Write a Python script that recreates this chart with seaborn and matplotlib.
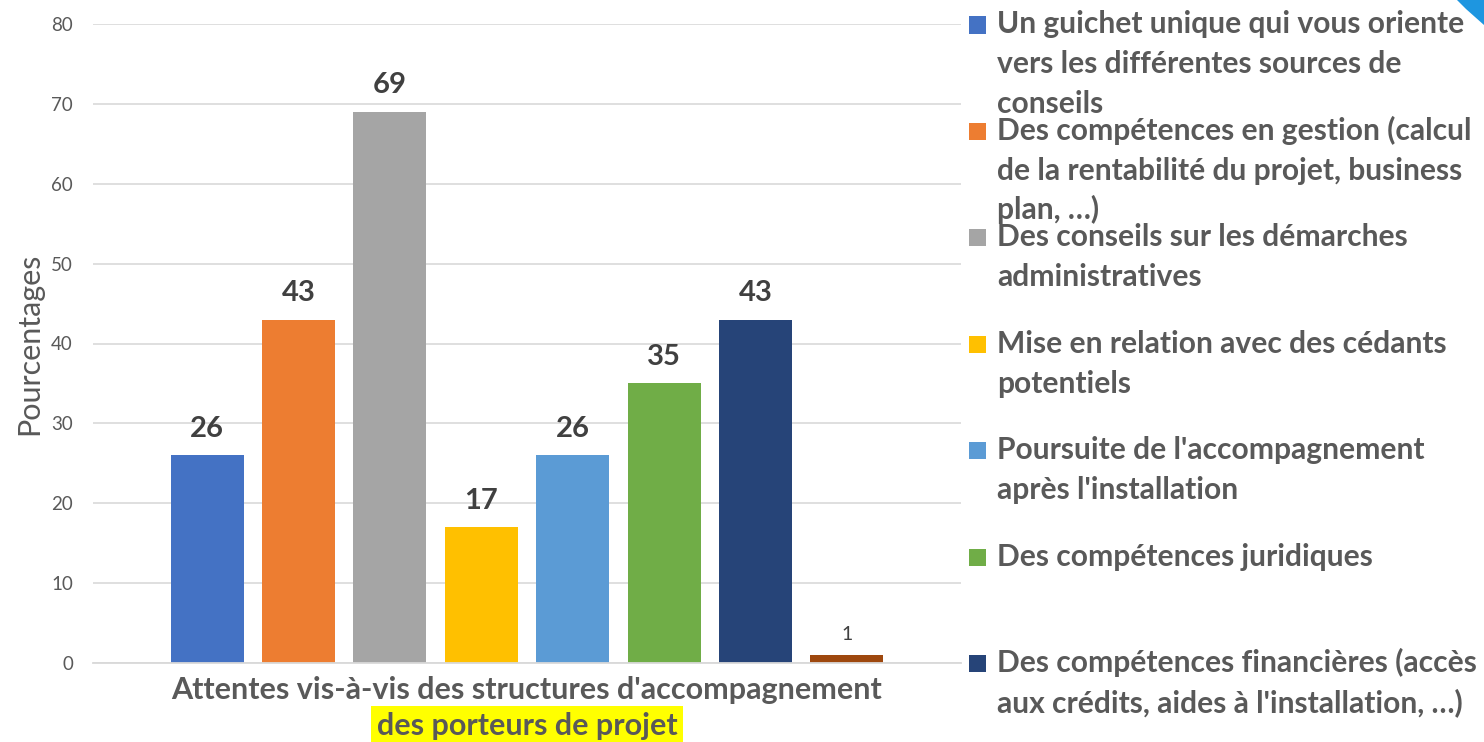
import matplotlib
matplotlib.use("Agg")
import matplotlib.pyplot as plt
import seaborn as sns
import pandas as pd
from matplotlib.patches import Rectangle, Polygon

# ---------------- data ----------------
categories = [
    "Un guichet unique qui vous oriente\nvers les différentes sources de\nconseils",
    "Des compétences en gestion (calcul\nde la rentabilité du projet, business\nplan, …)",
    "Des conseils sur les démarches\nadministratives",
    "Mise en relation avec des cédants\npotentiels",
    "Poursuite de l'accompagnement\naprès l'installation",
    "Des compétences juridiques",
    "Des compétences financières (accès\naux crédits, aides à l'installation, …)",
    "Autre",
]
values = [26, 43, 69, 17, 26, 35, 43, 1]
colors = ["#4472C4", "#ED7D31", "#A5A5A5", "#FFC000",
          "#5B9BD5", "#70AD47", "#264478", "#9E480E"]
group_label = "Attentes vis-à-vis des structures d'accompagnement"
group_label_line2 = "des porteurs de projet"
y_label = "Pourcentages"
y_ticks = [0, 10, 20, 30, 40, 50, 60, 70, 80]
n_legend = 7

# ---------------- style ----------------
sns.set_theme(style="white")
plt.rcParams["font.family"] = ["Lato", "DejaVu Sans"]

W, H = 1484, 742
fig = plt.figure(figsize=(W / 100, H / 100), dpi=100)
ax = fig.add_axes([93 / W, 1 - 663 / H, 868 / W, 639 / H])

df = pd.DataFrame({"groupe": [group_label] * len(values),
                   "cat": categories, "val": values})
sns.barplot(data=df, x="groupe", y="val", hue="cat", hue_order=categories,
            palette=colors, saturation=1, gap=0.2, width=0.8,
            errorbar=None, legend=False, linewidth=0, ax=ax)

ax.set_xlim(-0.475, 0.475)
ax.set_ylim(0, 80)
ax.set_yticks(y_ticks)
ax.set_axisbelow(True)
ax.grid(axis="y", color="#D9D9D9", linewidth=1.2)
ax.grid(axis="x", visible=False)
for s in ["top", "right", "left"]:
    ax.spines[s].set_visible(False)
ax.spines["bottom"].set_color("#D9D9D9")
ax.spines["bottom"].set_linewidth(1.3)

ax.tick_params(axis="y", length=0, pad=14.4, labelsize=13.5, labelcolor="#595959")
ax.tick_params(axis="x", length=0, pad=9.5, labelsize=22, labelcolor="#595959")
for lbl in ax.get_xticklabels():
    lbl.set_fontweight("bold")
ax.set_xlabel("")
ax.set_ylabel(y_label, fontsize=22, color="#595959")
ax.yaxis.set_label_coords(-0.0576, 0.5)

# value labels
for i, cont in enumerate(ax.containers):
    if values[i] >= 5:
        ax.bar_label(cont, fmt="%d", padding=9.8, fontsize=21,
                     fontweight="bold", color="#404040")
    else:
        ax.bar_label(cont, fmt="%d", padding=9, fontsize=14,
                     color="#404040")

# highlighted second line of category label
ax.text(0.5, (663 - 735) / 639, group_label_line2, transform=ax.transAxes,
        ha="center", va="baseline", fontsize=22, fontweight="bold",
        color="#595959",
        bbox=dict(facecolor="#FFFF00", edgecolor="none", pad=4.5))

# legend (manual, fixed spacing like the original)
for i in range(n_legend):
    base = 33.5 + i * 106.45
    fig.patches.append(Rectangle((969 / W, 1 - base / H), 17 / W, 17 / H,
                                 transform=fig.transFigure,
                                 facecolor=colors[i], edgecolor="none"))
    for j, line in enumerate(categories[i].split("\n")):
        fig.text(997 / W, 1 - (base + j * 39.7) / H, line, ha="left",
                 va="baseline", fontsize=21.6, fontweight="bold",
                 color="#595959")

# decorative blue corner
fig.patches.append(Polygon([(1457 / W, 1), (1, 1), (1, 1 - 25 / H),
                            (1475 / W, 1 - 17 / H), (1466 / W, 1 - 9 / H)],
                           closed=True, transform=fig.transFigure,
                           facecolor="#1E96E0", edgecolor="none"))

fig.savefig("out.png", dpi=100)
